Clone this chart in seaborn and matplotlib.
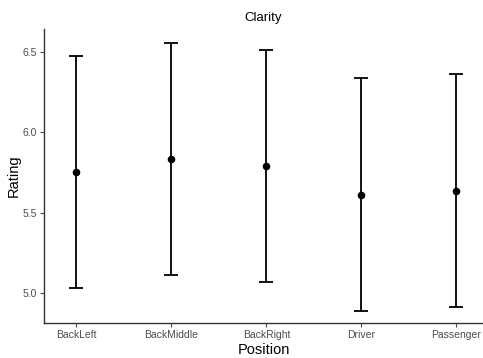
import matplotlib
matplotlib.use("Agg")
import matplotlib.pyplot as plt
import seaborn as sns
import pandas as pd
import numpy as np

positions = ["BackLeft", "BackMiddle", "BackRight", "Driver", "Passenger"]
means = [5.752, 5.832, 5.789, 5.612, 5.636]
lower = [5.030, 5.112, 5.068, 4.890, 4.915]
upper = [6.475, 6.556, 6.512, 6.336, 6.362]

df = pd.DataFrame({"Position": positions, "Rating": means, "lo": lower, "hi": upper})

sns.set_style("white")
plt.rcParams['font.family'] = ['Liberation Sans', 'DejaVu Sans']

fig = plt.figure(figsize=(4.83, 3.58), dpi=100)
ax = fig.add_axes([0.091, 0.098, 0.909, 0.821])

sns.scatterplot(data=df, x="Position", y="Rating", ax=ax, color="black", s=30, zorder=3, edgecolor="black", linewidth=0)
xs = np.arange(len(positions))
ax.errorbar(xs, df["Rating"], yerr=[df["Rating"] - df["lo"], df["hi"] - df["Rating"]],
            fmt="none", ecolor="black", elinewidth=1.3, capsize=5, capthick=1.3, zorder=2)

ax.set_xlim(-0.34, 4.28)
ax.set_ylim(4.814, 6.643)
ax.set_yticks([5.0, 5.5, 6.0, 6.5])
ax.set_yticklabels(["5.0", "5.5", "6.0", "6.5"])
ax.set_title("Clarity", fontsize=9.5, color="black", pad=6)
ax.set_xlabel("Position", fontsize=10.5, color="black", labelpad=2)
ax.set_ylabel("Rating", fontsize=10.5, color="black", labelpad=1)
ax.tick_params(axis="both", labelsize=7.5, colors="#4d4d4d", length=3, width=0.8, direction="out",
               bottom=True, left=True, pad=2)
for s in ["top", "right"]:
    ax.spines[s].set_visible(False)
for s in ["left", "bottom"]:
    ax.spines[s].set_color("#333333")
    ax.spines[s].set_linewidth(1.0)

fig.savefig("out.png", dpi=100)
